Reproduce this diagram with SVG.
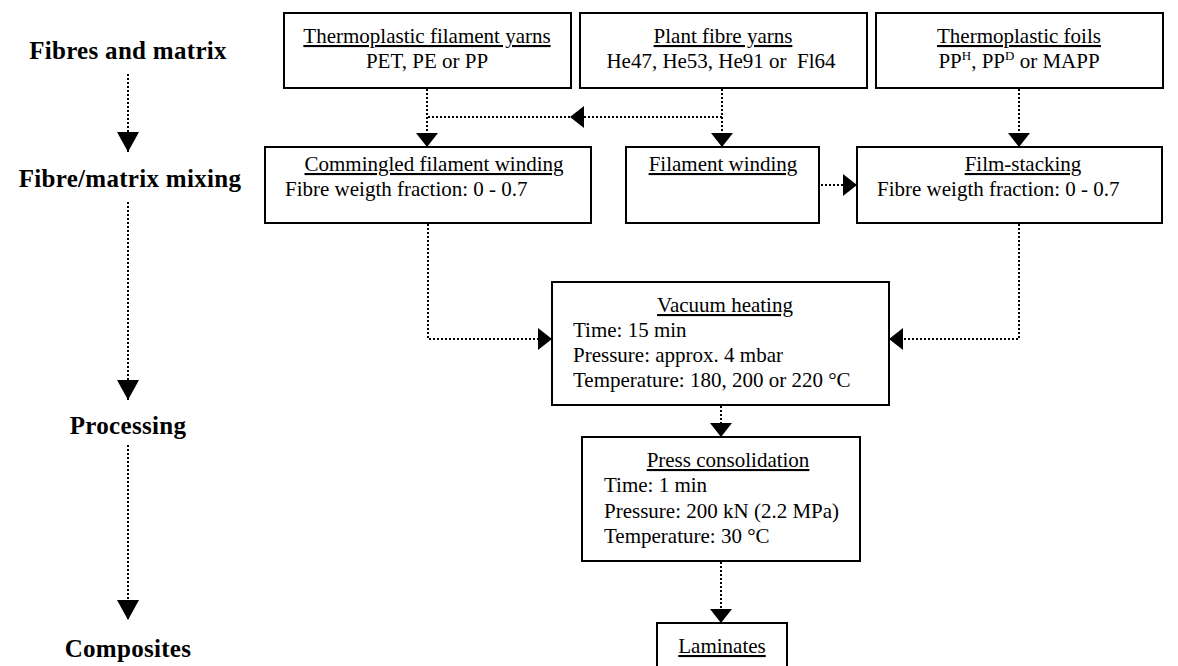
<svg xmlns="http://www.w3.org/2000/svg" width="1178" height="666" viewBox="0 0 1178 666">
<style>
.box{fill:#fff;stroke:#000;stroke-width:2}
.t{font-family:"Liberation Serif","Times New Roman",serif;font-size:21px;fill:#000}
.c{text-anchor:middle}
.u{text-decoration:underline}
.lbl{font-family:"Liberation Serif","Times New Roman",serif;font-size:25px;font-weight:bold;fill:#000;text-anchor:middle;letter-spacing:0.3px}
.dot{fill:none;stroke:#000;stroke-width:2;stroke-dasharray:2 2}
.sup{font-size:13px}
</style>
<defs>
<marker id="arr" markerUnits="userSpaceOnUse" markerWidth="14" markerHeight="22" refX="14" refY="11" orient="auto">
<path d="M0 0 L14 11 L0 22 Z" fill="#000" stroke="none"/>
</marker>
<marker id="arrBig" markerUnits="userSpaceOnUse" markerWidth="20" markerHeight="22" refX="20" refY="11" orient="auto">
<path d="M0 0 L20 11 L0 22 Z" fill="#000" stroke="none"/>
</marker>
</defs>
<rect width="1178" height="666" fill="#fff"/>

<g id="stages">
<text class="lbl" x="128" y="59">Fibres and matrix</text>
<text class="lbl" x="130" y="187">Fibre/matrix mixing</text>
<text class="lbl" x="128" y="434">Processing</text>
<text class="lbl" x="128" y="657">Composites</text>
</g>

<g id="connectors">
<path class="dot" d="M128 74 V152" marker-end="url(#arrBig)"/>
<path class="dot" d="M128 202 V400" marker-end="url(#arrBig)"/>
<path class="dot" d="M128 445 V620" marker-end="url(#arrBig)"/>
<path class="dot" d="M427 89 V147" marker-end="url(#arr)"/>
<path class="dot" d="M722 89 V147" marker-end="url(#arr)"/>
<path class="dot" d="M722 117 H570" marker-end="url(#arr)"/>
<path class="dot" d="M570 117 H427"/>
<path class="dot" d="M1019 89 V147" marker-end="url(#arr)"/>
<path class="dot" d="M821 185 H857" marker-end="url(#arr)"/>
<path class="dot" d="M428 224 V339 H552" marker-end="url(#arr)"/>
<path class="dot" d="M1019 224 V339 H889" marker-end="url(#arr)"/>
<path class="dot" d="M721 406 V437" marker-end="url(#arr)"/>
<path class="dot" d="M721 562 V623" marker-end="url(#arr)"/>
</g>

<g id="thermoplastic-yarns">
<rect class="box" x="284" y="13" width="287" height="75"/>
<text class="t c u" x="427" y="43">Thermoplastic filament yarns</text>
<text class="t c" x="427" y="68">PET, PE or PP</text>
</g>

<g id="plant-fibre-yarns">
<rect class="box" x="580" y="13" width="287" height="75"/>
<text class="t c u" x="723" y="43">Plant fibre yarns</text>
<text class="t c" x="721" y="68" xml:space="preserve">He47, He53, He91 or  Fl64</text>
</g>

<g id="thermoplastic-foils">
<rect class="box" x="876" y="13" width="287" height="75"/>
<text class="t c u" x="1019" y="43">Thermoplastic foils</text>
<text class="t c" x="1019" y="68">PP<tspan class="sup" dy="-8">H</tspan><tspan dy="8">, PP</tspan><tspan class="sup" dy="-8">D</tspan><tspan dy="8"> or MAPP</tspan></text>
</g>

<g id="commingled">
<rect class="box" x="265" y="147" width="326" height="76"/>
<text class="t c u" x="434" y="171">Commingled filament winding</text>
<text class="t" x="285" y="196">Fibre weigth fraction: 0 - 0.7</text>
</g>

<g id="filament-winding">
<rect class="box" x="626" y="147" width="193" height="76"/>
<text class="t c u" x="723" y="171">Filament winding</text>
</g>

<g id="film-stacking">
<rect class="box" x="857" y="147" width="305" height="76"/>
<text class="t c u" x="1023" y="171">Film-stacking</text>
<text class="t" x="877" y="196">Fibre weigth fraction: 0 - 0.7</text>
</g>

<g id="vacuum-heating">
<rect class="box" x="552" y="282" width="337" height="123"/>
<text class="t c u" x="725" y="312">Vacuum heating</text>
<text class="t" x="573" y="337">Time: 15 min</text>
<text class="t" x="573" y="362">Pressure: approx. 4 mbar</text>
<text class="t" x="573" y="387">Temperature: 180, 200 or 220 °C</text>
</g>

<g id="press-consolidation">
<rect class="box" x="582" y="437" width="278" height="124"/>
<text class="t c u" x="728" y="467">Press consolidation</text>
<text class="t" x="604" y="492">Time: 1 min</text>
<text class="t" x="604" y="518">Pressure: 200 kN (2.2 MPa)</text>
<text class="t" x="604" y="543">Temperature: 30 °C</text>
</g>

<g id="laminates">
<rect class="box" x="657" y="623" width="130" height="60"/>
<text class="t c u" x="722" y="653">Laminates</text>
</g>
</svg>
